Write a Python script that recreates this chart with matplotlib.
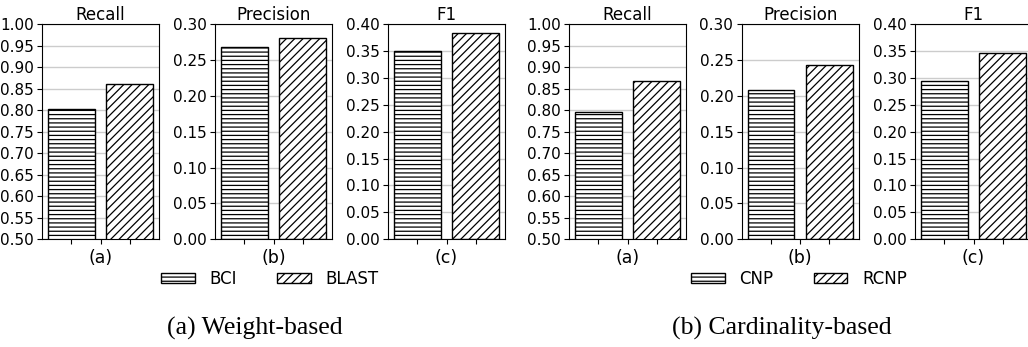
import matplotlib
matplotlib.use('Agg')
import matplotlib.pyplot as plt
import numpy as np

# data
metrics = ['Recall', 'Precision', 'F1']
sub_labels = ['(a)', '(b)', '(c)']
ylims = [(0.5, 1.0), (0.0, 0.3), (0.0, 0.4)]

weight_names = ['BCI', 'BLAST']
weight_vals = [[0.803, 0.860], [0.2675, 0.281], [0.350, 0.384]]

card_names = ['CNP', 'RCNP']
card_vals = [[0.795, 0.868], [0.2085, 0.2425], [0.294, 0.347]]

captions = ['(a) Weight-based', '(b) Cardinality-based']

hatches = ['----', '////']

plt.rcParams['font.family'] = ['DejaVu Sans']
plt.rcParams['hatch.linewidth'] = 0.9

fig = plt.figure(figsize=(10.28, 3.47), dpi=100)

W, H = 1028, 347
ax_w = 117 / W
ax_b = (H - 239.3) / H
ax_h = (239.3 - 24) / H
lefts = [[42, 215, 388], [569, 741.7, 915]]


def draw_group(lefts_px, names, vals):
    handles = None
    for i in range(3):
        ax = fig.add_axes([lefts_px[i] / W, ax_b, ax_w, ax_h])
        x = np.arange(2)
        bars = []
        for j in range(2):
            b = ax.bar(x[j], vals[i][j], width=0.8, color='white',
                       edgecolor='black', hatch=hatches[j], linewidth=1,
                       label=names[j])
            bars.append(b)
        ax.set_xlim(-0.5, 1.5)
        lo, hi = ylims[i]
        ax.set_ylim(lo, hi)
        ax.set_yticks(np.arange(lo, hi + 0.001, 0.05))
        ax.yaxis.set_major_formatter(plt.FormatStrFormatter('%.2f'))
        ax.set_xticks([0, 0.5, 1])
        ax.set_xticklabels(['', sub_labels[i], ''])
        ax.tick_params(axis='y', labelsize=11, pad=2.5)
        ax.tick_params(axis='x', labelsize=12.5)
        ax.grid(axis='y', color='#cccccc', linewidth=1)
        ax.set_axisbelow(True)
        ax.set_title(metrics[i], fontsize=12, pad=3)
        handles = bars
    return handles


h1 = draw_group(lefts[0], weight_names, weight_vals)
h2 = draw_group(lefts[1], card_names, card_vals)

leg_y = (H - 279) / H
fig.legend(h1, weight_names, loc='center', bbox_to_anchor=(270 / W, leg_y),
           ncol=2, frameon=False, fontsize=12, handlelength=2.0,
           handleheight=0.6, columnspacing=2.4, handletextpad=0.9)
fig.legend(h2, card_names, loc='center', bbox_to_anchor=(799 / W, leg_y),
           ncol=2, frameon=False, fontsize=12, handlelength=2.0,
           handleheight=0.6, columnspacing=2.4, handletextpad=0.9)

fig.text(254.5 / W, (H - 335) / H, captions[0], ha='center', va='baseline',
         fontsize=18.5, family='Liberation Serif')
fig.text(782 / W, (H - 335) / H, captions[1], ha='center', va='baseline',
         fontsize=18.5, family='Liberation Serif')

fig.savefig('out.png', dpi=100)
